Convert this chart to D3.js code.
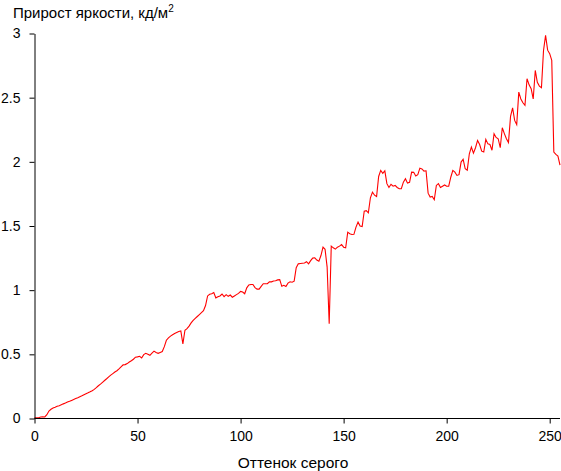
<!DOCTYPE html>
<html>
<head>
<meta charset="utf-8">
<script src="https://cdn.jsdelivr.net/npm/d3@7/dist/d3.min.js"></script>
<style>
  html, body { margin: 0; padding: 0; background: #fff; }
  svg { display: block; font-family: "Liberation Sans", Arial, sans-serif; }
</style>
</head>
<body>
<svg id="chart" width="561" height="471"></svg>
<script>
// Gray levels (categories)
const grayLevels = d3.range(0, 256);
// Brightness increment per gray level, cd/m2
const brightnessGain = [
  0.005, 0.005, 0.006, 0.012, 0.013, 0.012, 0.03, 0.058, 0.072, 0.082,
  0.088, 0.095, 0.1, 0.107, 0.114, 0.12, 0.128, 0.134, 0.141, 0.148,
  0.155, 0.162, 0.17, 0.177, 0.185, 0.193, 0.2, 0.208, 0.217, 0.227,
  0.24, 0.255, 0.268, 0.282, 0.296, 0.31, 0.325, 0.338, 0.35, 0.362,
  0.372, 0.386, 0.402, 0.418, 0.42, 0.428, 0.44, 0.45, 0.462, 0.478,
  0.48, 0.485, 0.472, 0.498, 0.508, 0.5, 0.492, 0.51, 0.525, 0.515,
  0.508, 0.515, 0.522, 0.56, 0.61, 0.628, 0.642, 0.652, 0.662, 0.67,
  0.678, 0.682, 0.582, 0.688, 0.7, 0.72, 0.745, 0.765, 0.78, 0.795,
  0.81, 0.825, 0.84, 0.88, 0.955, 0.968, 0.972, 0.982, 0.94, 0.948,
  0.955, 0.97, 0.95, 0.965, 0.952, 0.962, 0.945, 0.955, 0.965, 0.975,
  0.99, 0.985, 0.972, 1.018, 1.04, 1.044, 1.044, 1.02, 1.008, 1.008,
  1.03, 1.05, 1.05, 1.05, 1.065, 1.065, 1.072, 1.073, 1.08, 1.082,
  1.03, 1.038, 1.028, 1.055, 1.065, 1.062, 1.07, 1.175, 1.205, 1.208,
  1.21, 1.212, 1.222, 1.205, 1.23, 1.25, 1.252, 1.235, 1.225, 1.27,
  1.335, 1.318, 1.18, 0.738, 1.343, 1.33, 1.32, 1.335, 1.343, 1.356,
  1.335, 1.33, 1.452, 1.44, 1.434, 1.435, 1.491, 1.53, 1.5, 1.496,
  1.616, 1.62, 1.603, 1.72, 1.764, 1.74, 1.73, 1.886, 1.933, 1.91,
  1.93, 1.83, 1.8, 1.825, 1.81, 1.816, 1.8, 1.79, 1.79, 1.842,
  1.868, 1.834, 1.84, 1.92, 1.918, 1.889, 1.9, 1.951, 1.945, 1.928,
  1.93, 1.756, 1.725, 1.73, 1.705, 1.816, 1.83, 1.8, 1.81, 1.82,
  1.81, 1.81, 1.88, 1.933, 1.92, 1.894, 1.9, 1.998, 2.02, 1.946,
  1.935, 2.063, 2.115, 2.068, 2.11, 2.167, 2.135, 2.083, 2.076, 2.175,
  2.14, 2.135, 2.09, 2.219, 2.19, 2.18, 2.11, 2.266, 2.22, 2.18,
  2.15, 2.354, 2.42, 2.323, 2.29, 2.543, 2.49, 2.46, 2.44, 2.648,
  2.6, 2.57, 2.49, 2.712, 2.62, 2.59, 2.578, 2.868, 2.985, 2.87,
  2.843, 2.79, 2.076, 2.058, 2.045, 1.975
];
const xTicks = [0, 50, 100, 150, 200, 250];
const yTicks = [0, 0.5, 1, 1.5, 2, 2.5, 3];
const yTickLabels = ["0", "0.5", "1", "1.5", "2", "2.5", "3"];
const titleText = "Прирост яркости, кд/м";
const titleSup = "2";
const xAxisTitle = "Оттенок серого";

const svg = d3.select("#chart");
const x = d3.scaleLinear().domain([0, 255]).range([34.5, 560]);
const y = d3.scaleLinear().domain([0, 3]).range([418.5, 33.5]);

const fontSize = 14;

// Line
const line = d3.line()
  .x((d, i) => x(grayLevels[i]))
  .y(d => y(d));
svg.append("path")
  .datum(brightnessGain)
  .attr("fill", "none")
  .attr("stroke", "#ff0000")
  .attr("stroke-width", 1.1)
  .attr("d", line);

// Axes
const yAxis = d3.axisLeft(y)
  .tickValues(yTicks)
  .tickFormat((d, i) => yTickLabels[i])
  .tickSize(5)
  .tickSizeOuter(0)
  .tickPadding(9);
const gy = svg.append("g").attr("transform", "translate(34.5,0)").call(yAxis);

const xAxis = d3.axisBottom(x)
  .tickValues(xTicks)
  .tickFormat(d3.format("d"))
  .tickSize(5)
  .tickSizeOuter(0)
  .tickPadding(8);
const gx = svg.append("g").attr("transform", "translate(0,418.5)").call(xAxis);

[gx, gy].forEach(g => {
  g.select(".domain").attr("stroke", "#000").attr("stroke-width", 1);
  g.selectAll(".tick line").attr("stroke", "#000");
  g.selectAll(".tick text")
    .attr("fill", "#000")
    .style("font-size", fontSize + "px")
    .style("font-family", "'Liberation Sans', Arial, sans-serif");
});
gx.select(".domain").attr("d", `M${x(0)},0H${x(255)}`);

// Title
const title = svg.append("text")
  .attr("x", 13)
  .attr("y", 18)
  .attr("fill", "#000")
  .style("font-size", "15px");
title.append("tspan").text(titleText);
title.append("tspan")
  .attr("dy", -6)
  .style("font-size", "10px")
  .text(titleSup);

// X axis title
svg.append("text")
  .attr("x", 293)
  .attr("y", 468)
  .attr("text-anchor", "middle")
  .attr("fill", "#000")
  .style("font-size", "15.5px")
  .text(xAxisTitle);
</script>
</body>
</html>
